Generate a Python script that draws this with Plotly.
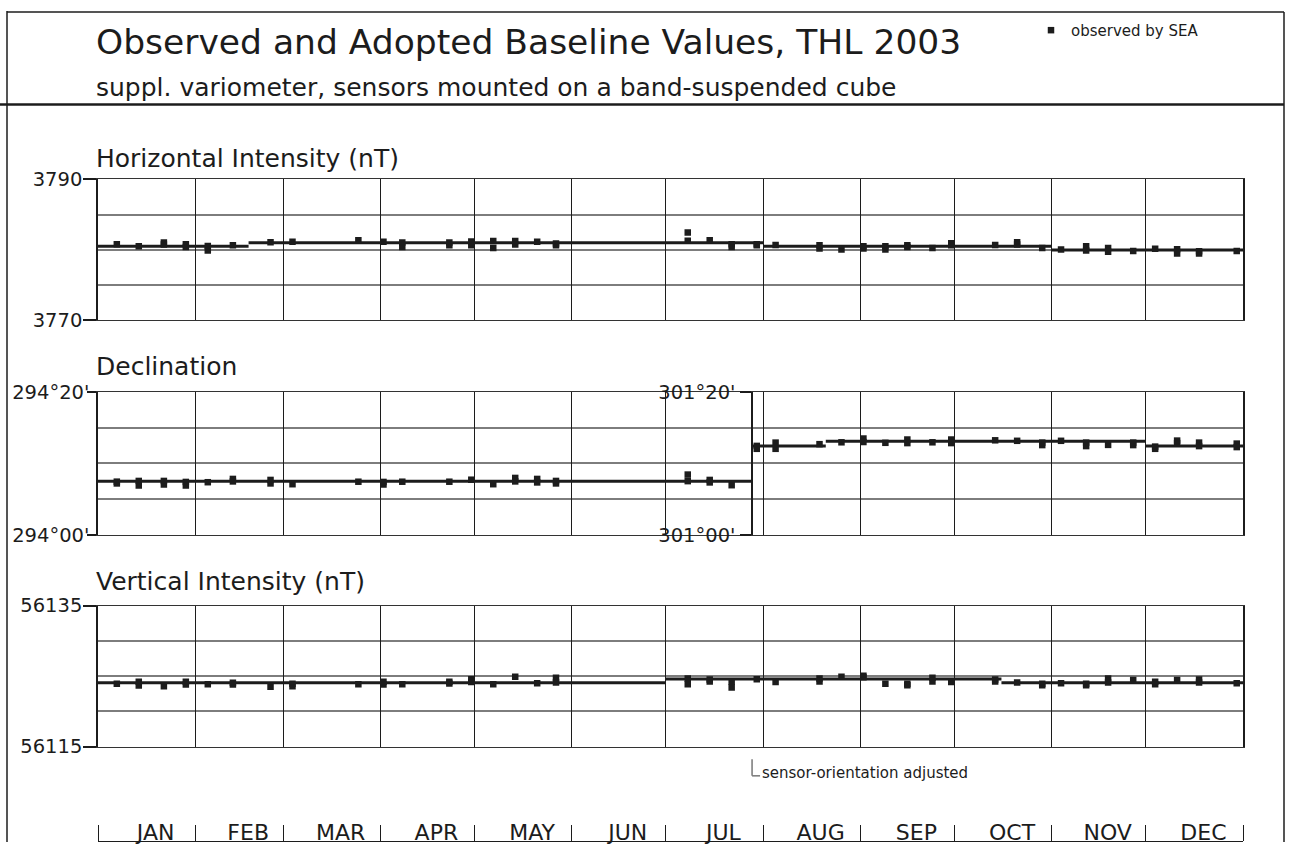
import pandas as pd
import plotly.graph_objects as go

# ---------------------------------------------------------------- data
obs_dates = [
    "2003-01-07", "2003-01-14", "2003-01-22", "2003-01-29", "2003-02-05",
    "2003-02-13", "2003-02-25", "2003-03-04", "2003-03-25", "2003-04-02",
    "2003-04-08", "2003-04-23", "2003-04-30", "2003-05-07", "2003-05-14",
    "2003-05-21", "2003-05-27", "2003-07-08", "2003-07-15", "2003-07-22",
    "2003-07-30", "2003-08-05", "2003-08-19", "2003-08-26", "2003-09-02",
    "2003-09-09", "2003-09-16", "2003-09-24", "2003-09-30", "2003-10-14",
    "2003-10-21", "2003-10-29", "2003-11-04", "2003-11-12", "2003-11-19",
    "2003-11-27", "2003-12-04", "2003-12-11", "2003-12-18", "2003-12-30",
]

# Horizontal intensity, nT (one or two readings per observation day)
H_obs = [
    [3780.8], [3780.5], [3781.05, 3780.75], [3780.8, 3780.4], [3780.55, 3779.9],
    [3780.65], [3781.1], [3781.15], [3781.35], [3781.15],
    [3781.05, 3780.4], [3781.05, 3780.65], [3781.2, 3780.65], [3781.25, 3780.25], [3781.25, 3780.75],
    [3781.15], [3780.9, 3780.65], [3782.45, 3781.3], [3781.35], [3780.8, 3780.4],
    [3780.8, 3780.65], [3780.7], [3780.65, 3780.2], [3780.05], [3780.5, 3780.2],
    [3780.5, 3780.05], [3780.65, 3780.4], [3780.25], [3780.95, 3780.65], [3780.7],
    [3781.1, 3780.75], [3780.25], [3780.05], [3780.5, 3779.9], [3780.25, 3779.75],
    [3779.85], [3780.15], [3780.1, 3779.5], [3779.8, 3779.5], [3779.85],
]

# Declination, arc minutes past the whole degree
# (294 deg before the orientation change, 301 deg after it)
D_obs_min = [
    [7.46, 7.21], [7.56, 6.92], [7.56, 7.06], [7.42, 6.92], [7.38],
    [7.84, 7.49], [7.7, 7.21], [7.1], [7.45], [7.42, 7.06],
    [7.45], [7.45], [7.73], [7.1], [7.98, 7.49],
    [7.84, 7.35], [7.56, 7.21], [8.45, 7.53], [7.7, 7.35], [6.96],
    [12.46, 12.05], [12.92, 12.05], [12.7], [12.96], [13.49, 13.0],
    [12.89], [13.35, 12.85], [12.96], [13.35, 12.85], [13.24],
    [13.17], [12.92, 12.57], [13.17], [12.92, 12.43], [12.6],
    [12.92, 12.57], [12.36, 12.05], [13.2, 12.85], [12.92, 12.43], [12.78, 12.29],
]

# Vertical intensity, nT
Z_obs = [
    [56123.9], [56124.2, 56123.65], [56123.55], [56124.2, 56123.8], [56123.85],
    [56124.05, 56123.8], [56123.5], [56123.9, 56123.55], [56123.85], [56124.2, 56123.8],
    [56123.85], [56124.2, 56123.95], [56124.55, 56124.15], [56123.85], [56124.9],
    [56124.0], [56124.75, 56124.1], [56124.65, 56123.85], [56124.5, 56124.25], [56124.2, 56123.4],
    [56124.55], [56124.15], [56124.65, 56124.25], [56124.9], [56125.05, 56124.85],
    [56123.9], [56123.9, 56123.7], [56124.75, 56124.25], [56124.15], [56124.5, 56124.25],
    [56124.1], [56123.9, 56123.7], [56124.0], [56123.9, 56123.7], [56124.65, 56124.1],
    [56124.45], [56124.2, 56123.85], [56124.45], [56124.5, 56124.1], [56124.0],
]

# Adopted baselines: segment edges and the value held on each segment
H_adopt_edges = ["2003-01-01", "2003-02-18", "2003-08-01", "2003-11-01", "2004-01-01"]
H_adopt_values = [3780.5, 3781.0, 3780.5, 3780.0]

D_change = "2003-07-28 12:00"          # sensor orientation adjusted
D_adopt_edges_before = ["2003-01-01", D_change]
D_adopt_values_before = [7.5]
D_adopt_edges_after = [D_change, "2003-08-21", "2003-12-01", "2004-01-01"]
D_adopt_values_after = [12.45, 13.1, 12.45]

Z_adopt_edges = ["2003-01-01", "2003-07-01", "2003-10-16", "2004-01-01"]
Z_adopt_values = [56124.05, 56124.6, 56124.05]

H_ticks, H_ticktext = [3770, 3790], ["3770", "3790"]
D_ticks = [0, 20]
D_ticktext_before = ["294°00'", "294°20'"]
D_ticktext_after = ["301°00'", "301°20'"]
Z_ticks, Z_ticktext = [56115, 56135], ["56115", "56135"]

YEAR_START, YEAR_END = "2003-01-01", "2004-01-01"

# ---------------------------------------------------------------- helpers
W, HGT = 1289, 854
FONT = "DejaVu Sans"
INK = "#1c1c1c"
GRID = "#7d7d7d"


def px(y):
    """Page pixel row -> paper fraction (measured from the bottom)."""
    return 1 - y / HGT


def flatten(dates, values):
    xs, ys = [], []
    for d, vs in zip(dates, values):
        for v in vs:
            xs.append(d)
            ys.append(v)
    return xs, ys


def steps(edges, values):
    xs, ys = [], []
    for a, b, v in zip(edges[:-1], edges[1:], values):
        xs += [a, b, None]
        ys += [v, v, None]
    return xs, ys


XDOM = [98 / W, 1243 / W]
DOM_H = [px(318), px(173)]
DOM_D = [px(538.5), px(391.5)]
DOM_Z = [px(756), px(611)]
DOM_M = [px(853), px(837)]

change_ts = pd.Timestamp(D_change)
t0, t1 = pd.Timestamp(YEAR_START), pd.Timestamp(YEAR_END)
change_pos = XDOM[0] + (change_ts - t0) / (t1 - t0) * (XDOM[1] - XDOM[0])

fig = go.Figure()

marker = dict(symbol="square", size=6.5, color=INK, line=dict(width=0))
adopt_line = dict(color=INK, width=3)

# Horizontal intensity
x, y = flatten(obs_dates, H_obs)
fig.add_trace(go.Scatter(x=x, y=y, mode="markers", marker=marker, name="observed by SEA",
                         xaxis="x", yaxis="y", showlegend=True))
x, y = steps(H_adopt_edges, H_adopt_values)
fig.add_trace(go.Scatter(x=x, y=y, mode="lines", line=adopt_line, xaxis="x", yaxis="y",
                         showlegend=False))

# Declination, split at the orientation change
before = [i for i, d in enumerate(obs_dates) if pd.Timestamp(d) < change_ts]
after = [i for i, d in enumerate(obs_dates) if pd.Timestamp(d) >= change_ts]
x, y = flatten([obs_dates[i] for i in before], [D_obs_min[i] for i in before])
fig.add_trace(go.Scatter(x=x, y=y, mode="markers", marker=marker, xaxis="x2", yaxis="y2",
                         showlegend=False))
x, y = steps(D_adopt_edges_before, D_adopt_values_before)
fig.add_trace(go.Scatter(x=x, y=y, mode="lines", line=adopt_line, xaxis="x2", yaxis="y2",
                         showlegend=False))
x, y = flatten([obs_dates[i] for i in after], [D_obs_min[i] for i in after])
fig.add_trace(go.Scatter(x=x, y=y, mode="markers", marker=marker, xaxis="x2", yaxis="y5",
                         showlegend=False))
x, y = steps(D_adopt_edges_after, D_adopt_values_after)
fig.add_trace(go.Scatter(x=x, y=y, mode="lines", line=adopt_line, xaxis="x2", yaxis="y5",
                         showlegend=False))

# Vertical intensity
x, y = flatten(obs_dates, Z_obs)
fig.add_trace(go.Scatter(x=x, y=y, mode="markers", marker=marker, xaxis="x3", yaxis="y3",
                         showlegend=False))
x, y = steps(Z_adopt_edges, Z_adopt_values)
fig.add_trace(go.Scatter(x=x, y=y, mode="lines", line=adopt_line, xaxis="x3", yaxis="y3",
                         showlegend=False))

# month scale along the bottom
fig.add_trace(go.Scatter(x=[], y=[], xaxis="x4", yaxis="y4", showlegend=False,
                         hoverinfo="skip"))

panel_x = dict(
    type="date", range=[YEAR_START, YEAR_END], domain=XDOM,
    tick0=YEAR_START, dtick="M1", showticklabels=False, ticks="",
    showgrid=True, gridcolor=INK, gridwidth=1,
    showline=True, linecolor="#333333", linewidth=1, mirror=True,
    zeroline=False, fixedrange=True,
)


def panel_y(dom, rng, tickvals, ticktext, ticklen=13, standoff=-3):
    return dict(
        domain=dom, range=rng, tickvals=tickvals, ticktext=ticktext,
        ticks="outside", ticklen=ticklen, tickwidth=1.5, tickcolor=INK,
        ticklabelstandoff=standoff,
        tickfont=dict(family=FONT, size=19.5, color=INK),
        showgrid=True, gridcolor=GRID, gridwidth=2,
        minor=dict(tick0=rng[0], dtick=(rng[1] - rng[0]) / 4, showgrid=True,
                   gridcolor=GRID, gridwidth=2, ticks=""),
        showline=True, linecolor=INK, linewidth=1.5, mirror=True,
        zeroline=False, fixedrange=True,
    )


fig.update_layout(
    width=W, height=HGT, autosize=False,
    margin=dict(l=0, r=0, t=0, b=0),
    paper_bgcolor="white", plot_bgcolor="white",
    font=dict(family=FONT, color=INK),
    xaxis=dict(panel_x, anchor="y"),
    xaxis2=dict(panel_x, anchor="y2"),
    xaxis3=dict(panel_x, anchor="y3"),
    yaxis=dict(panel_y(DOM_H, [3770, 3790], H_ticks, H_ticktext), anchor="x"),
    yaxis2=dict(panel_y(DOM_D, [0, 20], D_ticks, D_ticktext_before, ticklen=9, standoff=-6),
                anchor="x2"),
    yaxis3=dict(panel_y(DOM_Z, [56115, 56135], Z_ticks, Z_ticktext), anchor="x3"),
    yaxis5=dict(
        overlaying="y2", anchor="free", position=change_pos, side="left",
        range=[0, 20], tickvals=D_ticks, ticktext=D_ticktext_after,
        ticks="outside", ticklen=11, tickwidth=1.5, tickcolor=INK, ticklabelstandoff=1,
        tickfont=dict(family=FONT, size=19.5, color=INK),
        showgrid=False, showline=True, linecolor=INK, linewidth=1.5,
        zeroline=False, fixedrange=True,
    ),
    xaxis4=dict(
        type="date", range=[YEAR_START, YEAR_END], domain=XDOM, anchor="y4",
        tick0=YEAR_START, dtick="M1", tickformat="%b", ticklabelmode="period",
        ticks="inside", ticklen=16, tickwidth=1, tickcolor=INK,
        ticklabelposition="inside", ticklabelstandoff=-18, ticklabelshift=9,
        tickfont=dict(family=FONT, size=22, color=INK, textcase="upper"),
        showgrid=False, showline=True, linecolor=INK, linewidth=1,
        zeroline=False, fixedrange=True,
    ),
    yaxis4=dict(domain=DOM_M, range=[0, 1], visible=False, fixedrange=True),
    showlegend=True,
    legend=dict(x=1031 / W, y=px(3), xanchor="left", yanchor="top",
                bgcolor="rgba(0,0,0,0)", font=dict(family=FONT, size=15, color=INK),
                itemsizing="trace"),
)

# titles
texts = [
    ("Observed and Adopted Baseline Values, THL 2003", 32, 34.5),
    ("suppl. variometer, sensors mounted on a band-suspended cube", 79, 25),
    ("Horizontal Intensity (nT)", 152, 25),
    ("Declination", 365, 25),
    ("Vertical Intensity (nT)", 586, 25),
]
for txt, ypix, size in texts:
    fig.add_annotation(text=txt, x=94 / W, y=px(ypix), xref="paper", yref="paper",
                       xanchor="left", yanchor="middle", showarrow=False,
                       font=dict(family=FONT, size=size, color=INK))

# orientation-change marker below the panels
fig.add_shape(type="line", xref="x3", yref="paper", xsizemode="pixel", xanchor=D_change,
              x0=0, x1=0, y0=px(769), y1=px(786), line=dict(color="#777777", width=1.5))
fig.add_shape(type="line", xref="x3", yref="paper", xsizemode="pixel", xanchor=D_change,
              x0=0, x1=8, y0=px(786), y1=px(786), line=dict(color="#777777", width=1.5))
fig.add_annotation(text="sensor-orientation adjusted", x=D_change, xref="x3",
                   y=px(783), yref="paper", xanchor="left", yanchor="middle", xshift=8,
                   showarrow=False, font=dict(family=FONT, size=15, color=INK))

# page frame and header rule
frame = dict(color=INK, width=1.5)
fig.add_shape(type="line", xref="paper", yref="paper", x0=7 / W, x1=7 / W, y0=0, y1=1, line=frame)
fig.add_shape(type="line", xref="paper", yref="paper", x0=1284 / W, x1=1284 / W, y0=0, y1=px(1),
              line=frame)
fig.add_shape(type="line", xref="paper", yref="paper", x0=7 / W, x1=1284 / W, y0=px(1), y1=px(1),
              line=frame)
fig.add_shape(type="line", xref="paper", yref="paper", x0=0, x1=1284 / W, y0=px(96), y1=px(96),
              line=dict(color=INK, width=2.5))

fig.write_html("out.html")
